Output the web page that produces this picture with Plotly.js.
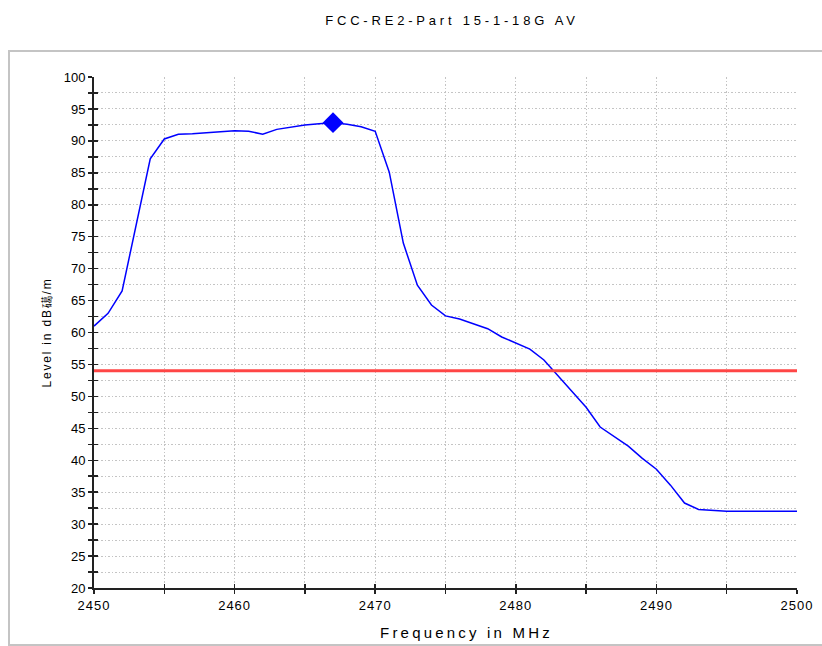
<!DOCTYPE html>
<html>
<head>
<meta charset="utf-8">
<script src="https://cdn.plot.ly/plotly-3.0.1.min.js"></script>
<style>
  html, body { margin: 0; padding: 0; background: #fff; }
  #chart { width: 822px; height: 646px; }
  .gtitle { letter-spacing: 3.8px; }
  .xtitle { letter-spacing: 3.2px; transform: translate(21px, 4px); }
  .ytitle { letter-spacing: 1.8px; }
  .xtick text { letter-spacing: 1px; }
</style>
</head>
<body>
<div id="chart"></div>
<script>
// ---- data ----
const frequencyMHz = [2450, 2451, 2452, 2453, 2454, 2455, 2456, 2457, 2458, 2459,
                      2460, 2461, 2462, 2463, 2464, 2465, 2466, 2467, 2468, 2469,
                      2470, 2471, 2472, 2473, 2474, 2475, 2476, 2477, 2478, 2479,
                      2480, 2481, 2482, 2483, 2484, 2485, 2486, 2487, 2488, 2489,
                      2490, 2491, 2492, 2493, 2494, 2495, 2496, 2497, 2498, 2499, 2500];
const levelAV = [61.0, 63.0, 66.5, 76.8, 87.2, 90.3, 91.05, 91.1, 91.3, 91.5,
                 91.6, 91.5, 91.05, 91.8, 92.2, 92.5, 92.7, 92.85, 92.6, 92.2,
                 91.5, 85.1, 74.0, 67.4, 64.3, 62.6, 62.1, 61.4, 60.6, 59.3,
                 58.4, 57.4, 55.7, 53.2, 50.7, 48.3, 45.2, 43.7, 42.2, 40.3,
                 38.6, 36.1, 33.3, 32.3, 32.1, 32.0, 32.0, 32.0, 32.0, 32.0, 32.0];
const limitFreq = [2450, 2500];
const limitLevel = [54, 54];
const peakFreq = [2467];
const peakLevel = [92.85];
const titleText = "FCC-RE2-Part 15-1-18G AV";
const xTitleText = "Frequency in MHz";
const yTitleText = "Level in dB\u790D/m";
const xRange = [2450, 2500];
const yRange = [20, 100];

const gridColor = "#c4c4c4";
const gridDash = "1.5px,2px";
const axisColor = "#222222";
const fontFam = "'Liberation Sans', Arial, sans-serif";

const traces = [
  { x: frequencyMHz, y: levelAV, type: "scatter", mode: "lines",
    line: { color: "#0000ff", width: 1.5 }, hoverinfo: "x+y", showlegend: false },
  { x: limitFreq, y: limitLevel, type: "scatter", mode: "lines",
    line: { color: "rgb(255,70,70)", width: 3 }, showlegend: false },
  { x: peakFreq, y: peakLevel, type: "scatter", mode: "markers",
    marker: { symbol: "diamond", size: 16, color: "#0000ff" }, showlegend: false },
  // invisible trace to create an overlay pair of axes for the inward half of the ticks
  { x: [], y: [], xaxis: "x2", yaxis: "y2", type: "scatter", mode: "markers", showlegend: false, hoverinfo: "skip" }
];

const layout = {
  width: 822, height: 646,
  margin: { l: 94, r: 25, t: 77, b: 58 },
  paper_bgcolor: "#ffffff", plot_bgcolor: "#ffffff",
  font: { family: fontFam, color: "#000000", size: 13 },
  title: { text: titleText, x: 452 / 822, xref: "container", xanchor: "center",
           y: 1 - 20 / 646, yref: "container", yanchor: "middle",
           font: { family: fontFam, size: 13, color: "#000" } },
  xaxis: {
    range: xRange, dtick: 10, tick0: 2450,
    showline: true, linecolor: axisColor, linewidth: 2,
    ticks: "outside", ticklen: 4, tickwidth: 1.5, tickcolor: axisColor,
    showgrid: true, gridcolor: gridColor, griddash: gridDash, gridwidth: 1,
    minor: { dtick: 5, showgrid: true, gridcolor: gridColor, griddash: gridDash, gridwidth: 1,
             ticks: "outside", ticklen: 4, tickwidth: 1.5, tickcolor: axisColor },
    zeroline: false, mirror: false,
    tickfont: { size: 13, color: "#000" },
    title: { text: xTitleText, font: { size: 15, color: "#000" }, standoff: 12 },
    automargin: false
  },
  yaxis: {
    range: yRange, dtick: 5, tick0: 20,
    showline: true, linecolor: axisColor, linewidth: 2,
    ticks: "outside", ticklen: 4, tickwidth: 1.5, tickcolor: axisColor,
    showgrid: true, gridcolor: gridColor, griddash: gridDash, gridwidth: 1,
    minor: { dtick: 2.5, showgrid: true, gridcolor: gridColor, griddash: gridDash, gridwidth: 1,
             ticks: "outside", ticklen: 4, tickwidth: 1.5, tickcolor: axisColor },
    zeroline: false,
    tickfont: { size: 13, color: "#000" },
    title: { text: yTitleText, font: { size: 12, color: "#000" }, standoff: 9 },
    automargin: false
  },
  xaxis2: {
    range: xRange, overlaying: "x", anchor: "y2", side: "bottom",
    dtick: 5, tick0: 2450, ticks: "inside", ticklen: 4, tickwidth: 1.5, tickcolor: axisColor,
    showticklabels: false, showgrid: false, zeroline: false, showline: false
  },
  yaxis2: {
    range: yRange, overlaying: "y", anchor: "x2", side: "left",
    dtick: 2.5, tick0: 20, ticks: "inside", ticklen: 4, tickwidth: 1.5, tickcolor: axisColor,
    showticklabels: false, showgrid: false, zeroline: false, showline: false
  },
  shapes: [
    { type: "rect", xref: "paper", yref: "paper",
      x0: (9 - 94) / 703, x1: (830 - 94) / 703,
      y0: (588 - 645) / 511, y1: (588 - 51) / 511,
      line: { color: "#c4c4c4", width: 2 }, fillcolor: "rgba(0,0,0,0)", layer: "below" }
  ],
  showlegend: false
};

Plotly.newPlot("chart", traces, layout, { displayModeBar: false, staticPlot: true });
</script>
</body>
</html>
